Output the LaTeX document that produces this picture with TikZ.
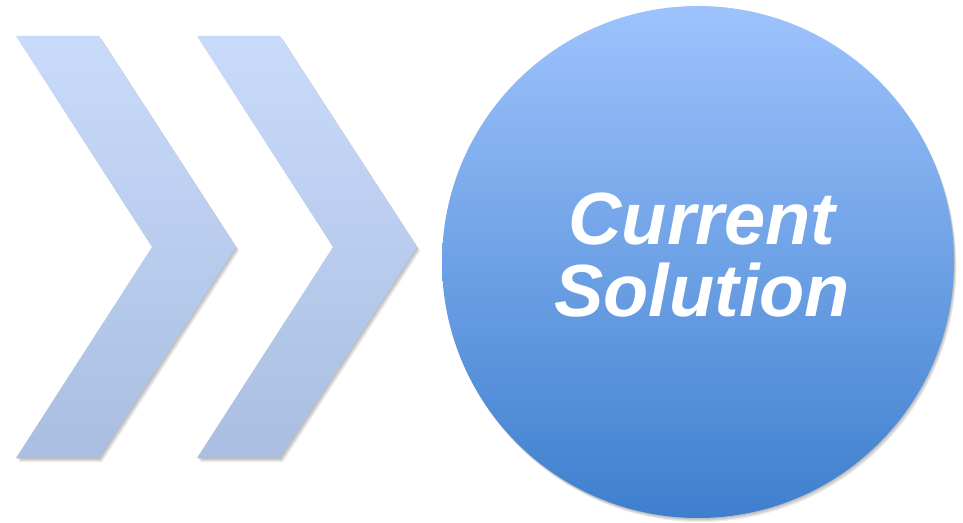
\documentclass[tikz,border=0pt]{standalone}
\usepackage{fontspec}
\setmainfont{Liberation Sans}
\definecolor{chevtop}{HTML}{C9DBFB}
\definecolor{chevbot}{HTML}{A9BEE0}
\definecolor{disctop}{HTML}{9EC3FD}
\definecolor{discbot}{HTML}{3E7FCE}

\begin{document}
\begin{tikzpicture}[
    x=1pt, y=1pt,
    chevron/.style={top color=chevtop, bottom color=chevbot, draw=none},
    softshadow/.style={fill=black, opacity=0.07, draw=none},
    disc/.style={circle, minimum size=512pt, inner sep=0pt,
        top color=disctop, bottom color=discbot, draw=none},
    caption/.style={text=white, align=center,
        font=\bfseries\itshape\fontsize{74}{72}\selectfont}
]
    \useasboundingbox (0,0) rectangle (963,522);

    % 1. Soft shadows under the shapes
    \foreach \s in {1,...,4} {
        \foreach \dx in {0,181} {
            \fill[softshadow, shift={(\dx+0.8*\s,-\s)}]
                (16,486) -- (99,486) -- (236,275) -- (99,64)
                -- (16,64) -- (152,275) -- cycle;
        }
        \fill[softshadow] (698+0.6*\s,260-\s) circle (256);
    }

    % 2. The two chevrons
    \foreach \dx in {0,181} {
        \shade[chevron, shift={(\dx,0)}]
            (16,486) -- (99,486) -- (236,275) -- (99,64)
            -- (16,64) -- (152,275) -- cycle;
    }

    % 3. The disc with its text
    \node[disc] (sol) at (698,260) {};
    \node[caption] (soltext) at (702,267) {Current\\Solution};

\end{tikzpicture}
\end{document}
